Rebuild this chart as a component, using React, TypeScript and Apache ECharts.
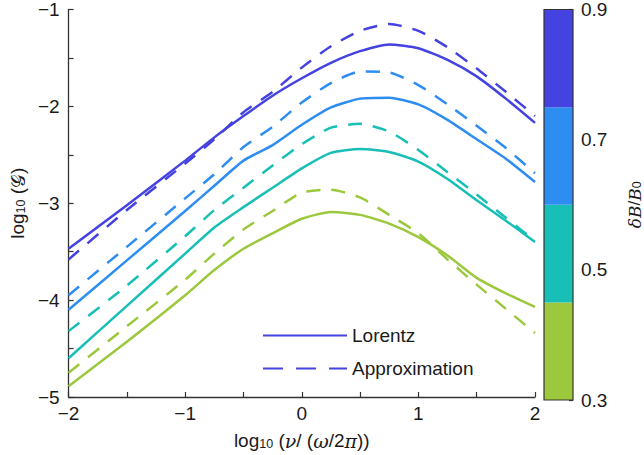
import React, { useEffect, useRef } from 'react';
import * as echarts from 'echarts';

// x positions: log10(nu/(omega/2pi))
const xs = [-2, -1.5, -1, -0.75, -0.5, -0.25, 0, 0.25, 0.5, 0.75, 1, 1.25, 1.5, 1.75, 2];

// dB/B0 = 0.9
const lorentz09 = [-3.47, -3.02, -2.56, -2.32, -2.10, -1.89, -1.71, -1.55, -1.43, -1.36, -1.40, -1.52, -1.69, -1.92, -2.17];
const approx09 = [-3.58, -3.07, -2.59, -2.34, -2.06, -1.85, -1.60, -1.38, -1.22, -1.15, -1.22, -1.39, -1.61, -1.85, -2.10];
// dB/B0 = 0.7
const lorentz07 = [-4.10, -3.59, -3.08, -2.82, -2.56, -2.40, -2.19, -2.01, -1.92, -1.91, -1.98, -2.14, -2.34, -2.54, -2.78];
const approx07 = [-3.95, -3.45, -2.95, -2.70, -2.42, -2.21, -1.96, -1.76, -1.64, -1.65, -1.78, -1.98, -2.20, -2.43, -2.69];
// dB/B0 = 0.5
const lorentz05 = [-4.60, -4.06, -3.52, -3.25, -3.04, -2.84, -2.64, -2.48, -2.44, -2.47, -2.57, -2.75, -2.97, -3.18, -3.40];
const approx05 = [-4.32, -3.85, -3.34, -3.07, -2.84, -2.61, -2.39, -2.22, -2.18, -2.26, -2.45, -2.68, -2.91, -3.15, -3.39];
// dB/B0 = 0.3
const lorentz03 = [-4.89, -4.43, -3.95, -3.69, -3.47, -3.31, -3.16, -3.09, -3.12, -3.21, -3.35, -3.54, -3.77, -3.93, -4.07];
const approx03 = [-4.75, -4.27, -3.79, -3.52, -3.27, -3.08, -2.89, -2.86, -2.94, -3.12, -3.31, -3.58, -3.84, -4.09, -4.34];

const curveColors = ['#4442E0', '#2E8DF0', '#17BFB6', '#9CC83E'];
const lorentzSets = [lorentz09, lorentz07, lorentz05, lorentz03];
const approxSets = [approx09, approx07, approx05, approx03];

// colour bar
const cbEdges = [0.3, 0.45, 0.6, 0.75, 0.9];
const cbColors = ['#9CC83E', '#17BFB6', '#2E8DF0', '#4442E0'];
const cbTicks = [0.3, 0.5, 0.7, 0.9];

const FONT = 'Liberation Sans';
const FS = 19;
const AXIS_COLOR = '#333';
const TEXT_COLOR = '#1a1a1a';
const DASH = [14, 11];

const minus = (v: number) => String(v).replace('-', '\u2212');

export default function App() {
  const ref = useRef<HTMLDivElement>(null);
  useEffect(() => {
    const chart = echarts.init(ref.current!, null, { renderer: 'svg' });
    const pair = (ys: number[]) => xs.map((x, i) => [x, ys[i]]);
    const lineSeries: any[] = [];
    lorentzSets.forEach((ys, k) => {
      lineSeries.push({
        type: 'line', xAxisIndex: 0, yAxisIndex: 0, data: pair(ys), showSymbol: false, symbol: 'none', smooth: 0.2,
        lineStyle: { color: curveColors[k], width: 2.5, type: 'solid' }, itemStyle: { color: curveColors[k] },
        z: 3,
      });
      lineSeries.push({
        type: 'line', xAxisIndex: 0, yAxisIndex: 0, data: pair(approxSets[k]), showSymbol: false, symbol: 'none', smooth: 0.2,
        lineStyle: { color: curveColors[k], width: 2.5, type: DASH }, itemStyle: { color: curveColors[k] },
        z: 3,
      });
    });
    // legend-only series
    lineSeries.push({
      name: 'Lorentz', type: 'line', xAxisIndex: 0, yAxisIndex: 0, data: [], symbol: 'none', symbolSize: 0,
      lineStyle: { color: curveColors[0], width: 2.5, type: 'solid' }, itemStyle: { color: curveColors[0] },
    });
    lineSeries.push({
      name: 'Approximation', type: 'line', xAxisIndex: 0, yAxisIndex: 0, data: [], symbol: 'none', symbolSize: 0,
      lineStyle: { color: curveColors[0], width: 2.5, type: [20, 13] }, itemStyle: { color: curveColors[0] },
    });
    // colour bar bars
    const cbSeries = cbColors.map((c, i) => ({
      type: 'bar', xAxisIndex: 1, yAxisIndex: 1, stack: 'cb', barWidth: '100%', barGap: '0%',
      data: [i === 0 ? cbEdges[1] : cbEdges[i + 1] - cbEdges[i]],
      itemStyle: { color: c }, silent: true,
    }));

    const sub = { fontSize: 12.5, fontFamily: FONT, color: TEXT_COLOR, lineHeight: 12, verticalAlign: 'bottom' };
    const main = { fontSize: FS, fontFamily: FONT, color: TEXT_COLOR, lineHeight: 23, verticalAlign: 'bottom' };
    const ital = { ...main, fontStyle: 'italic', fontFamily: 'DejaVu Serif' };

    chart.setOption({
      animation: false,
      backgroundColor: '#fff',
      grid: [
        { left: 62, right: 109, top: 7.5, bottom: 55, containLabel: false },
        { left: 544, width: 33, top: 8, bottom: 55, show: true, z: 10, backgroundColor: 'transparent', borderColor: AXIS_COLOR, borderWidth: 1.2 },
      ],
      legend: {
        orient: 'vertical', left: 257, top: 321, itemWidth: 84, itemHeight: 14, itemGap: 14,
        textStyle: { fontFamily: FONT, fontSize: FS, color: TEXT_COLOR },
        itemStyle: { opacity: 0 },
        data: ['Lorentz', 'Approximation'],
        selectedMode: false,
      },
      xAxis: [
        {
          type: 'value', gridIndex: 0, min: -2, max: 2, interval: 1,
          axisLine: { show: true, onZero: false, lineStyle: { color: AXIS_COLOR, width: 1.3 } },
          axisTick: { show: true, inside: true, length: 5, lineStyle: { color: AXIS_COLOR, width: 1.2 } },
          minorTick: { show: true, splitNumber: 2, length: 5, lineStyle: { color: AXIS_COLOR, width: 1.2 } },
          splitLine: { show: false },
          axisLabel: { fontFamily: FONT, fontSize: FS, color: TEXT_COLOR, margin: 7, formatter: (v: number) => minus(v) },
          name: '{a|log}{s|10}{a| (}{i|\u03BD}{a|/ (}{i|\u03C9}{a|/2}{i|\u03C0}{a|))}',
          nameLocation: 'middle', nameGap: 30,
          nameTextStyle: { rich: { a: main, s: sub, i: ital } },
        },
        { type: 'category', gridIndex: 1, data: ['cb'], show: false },
      ],
      yAxis: [
        {
          type: 'value', gridIndex: 0, min: -5, max: -1, interval: 1,
          axisLine: { show: true, onZero: false, lineStyle: { color: AXIS_COLOR, width: 1.3 } },
          axisTick: { show: true, inside: true, length: 5, lineStyle: { color: AXIS_COLOR, width: 1.2 } },
          minorTick: { show: true, splitNumber: 2, length: 5, lineStyle: { color: AXIS_COLOR, width: 1.2 } },
          splitLine: { show: false },
          axisLabel: { fontFamily: FONT, fontSize: FS, color: TEXT_COLOR, margin: 9, formatter: (v: number) => minus(v) },
          name: '{a|log}{s|10}{a| (}{g|\uD835\uDCA2}{a|)}',
          nameLocation: 'middle', nameGap: 37, nameRotate: 90,
          nameTextStyle: { rich: { a: main, s: sub, g: { ...main, fontFamily: 'DejaVu Sans' } } },
        },
        {
          type: 'value', gridIndex: 1, position: 'right', min: cbEdges[0], max: cbEdges[cbEdges.length - 1], interval: 0.2,
          axisLine: { show: false },
          axisTick: { show: true, inside: true, length: 4, lineStyle: { color: AXIS_COLOR, width: 1.2 } },
          splitLine: { show: false },
          axisLabel: {
            fontFamily: FONT, fontSize: FS, color: TEXT_COLOR, margin: 8,
            formatter: (v: number) => (cbTicks.some((t) => Math.abs(t - v) < 1e-6) ? v.toFixed(1) : ''),
          },
          name: '{i|\u03B4B}{a|/}{i|B}{s|0}',
          nameLocation: 'middle', nameGap: 47, nameRotate: 90,
          nameTextStyle: { rich: { a: { ...main, fontSize: 17 }, s: sub, i: { ...ital, fontSize: 17 } } },
        },
      ],
      series: [...cbSeries, ...lineSeries],
    });
    return () => chart.dispose();
  }, []);
  return <div ref={ref} style={{ position: 'absolute', left: 0, top: 0, width: 644, height: 455 }} />;
}
